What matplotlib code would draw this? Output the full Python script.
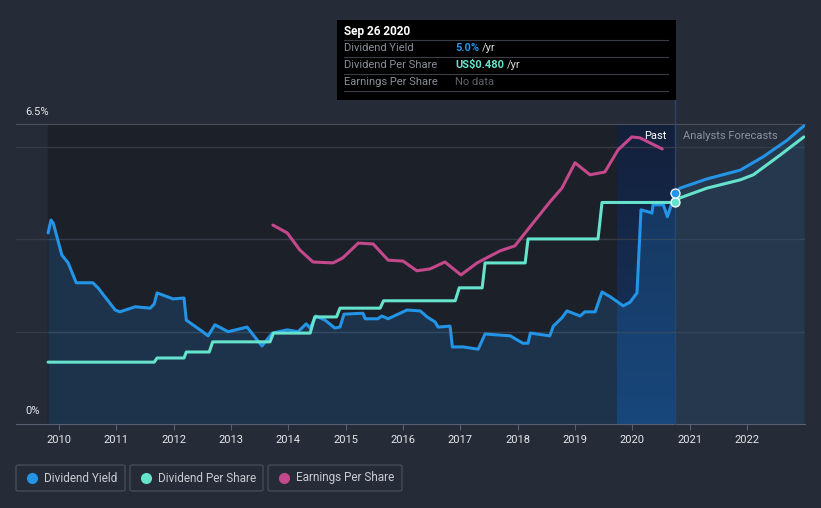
import numpy as np
import matplotlib.pyplot as plt
from matplotlib.patches import Rectangle, FancyBboxPatch
from matplotlib.lines import Line2D
from matplotlib.colors import LinearSegmentedColormap

plt.rcParams['font.family'] = ['Roboto', 'DejaVu Sans']

# Dividend yield (%), past and forecast
dy_years = [2009.81, 2009.86, 2009.90, 2010.05, 2010.16, 2010.30, 2010.59, 2010.68, 2010.98, 2011.06,
            2011.33, 2011.59, 2011.66, 2011.71, 2011.99, 2012.18, 2012.22, 2012.46, 2012.60, 2012.72,
            2012.95, 2013.28, 2013.54, 2013.72, 2013.98, 2014.17, 2014.31, 2014.38, 2014.48, 2014.64,
            2014.81, 2014.90, 2014.97, 2015.30, 2015.34, 2015.56, 2015.63, 2015.74, 2016.07, 2016.30,
            2016.42, 2016.56, 2016.61, 2016.82, 2016.86, 2017.05, 2017.31, 2017.43, 2017.87, 2018.09,
            2018.18, 2018.22, 2018.56, 2018.62, 2018.77, 2018.86, 2019.09, 2019.17, 2019.35, 2019.47,
            2019.61, 2019.84, 2019.96, 2020.08, 2020.15, 2020.27, 2020.34, 2020.36, 2020.54, 2020.61,
            2020.69, 2020.74]
dy_values = [4.14, 4.42, 4.35, 3.66, 3.49, 3.06, 3.06, 2.95, 2.47, 2.43,
             2.54, 2.51, 2.60, 2.84, 2.71, 2.73, 2.25, 2.04, 1.91, 2.15,
             2.00, 2.10, 1.69, 1.97, 2.04, 2.00, 2.17, 2.08, 2.34, 2.25,
             2.08, 2.10, 2.38, 2.40, 2.28, 2.28, 2.34, 2.28, 2.47, 2.45,
             2.32, 2.21, 2.10, 2.12, 1.67, 1.67, 1.62, 1.95, 1.91, 1.75,
             1.75, 1.97, 1.91, 2.12, 2.30, 2.45, 2.34, 2.43, 2.43, 2.86,
             2.76, 2.56, 2.64, 2.84, 4.64, 4.60, 4.57, 4.75, 4.75, 4.49,
             4.79, 5.00]
dy_fc_years = [2020.74, 2020.83, 2021.30, 2021.88, 2022.28, 2022.70, 2022.99]
dy_fc_values = [5.00, 5.11, 5.31, 5.50, 5.79, 6.15, 6.46]

# Dividend per share (US$)
dps_years = [2009.81, 2011.66, 2011.71, 2012.18, 2012.22, 2012.62, 2012.68, 2013.68, 2013.74,
             2014.38, 2014.46, 2014.84, 2014.90, 2015.60, 2015.66, 2016.91, 2016.98, 2017.38,
             2017.43, 2018.13, 2018.18, 2019.40, 2019.47, 2020.74]
dps_values = [0.134, 0.134, 0.143, 0.143, 0.156, 0.156, 0.178, 0.178, 0.197,
              0.197, 0.232, 0.232, 0.251, 0.251, 0.267, 0.267, 0.295, 0.295,
              0.349, 0.349, 0.401, 0.401, 0.480, 0.480]
dps_fc_years = [2020.74, 2020.83, 2021.30, 2021.88, 2022.11, 2022.58, 2022.99]
dps_fc_values = [0.480, 0.490, 0.511, 0.529, 0.540, 0.583, 0.622]

# Earnings per share (US$)
eps_years = [2013.73, 2013.98, 2014.20, 2014.43, 2014.78, 2014.95, 2015.22, 2015.48, 2015.74, 2016.00,
             2016.24, 2016.47, 2016.73, 2017.01, 2017.29, 2017.69, 2017.95, 2018.27, 2018.56, 2018.77,
             2019.00, 2019.26, 2019.52, 2019.75, 2019.99, 2020.13, 2020.52]
eps_values = [0.431, 0.414, 0.377, 0.351, 0.349, 0.360, 0.392, 0.390, 0.355, 0.353,
              0.332, 0.336, 0.351, 0.323, 0.349, 0.375, 0.386, 0.436, 0.481, 0.511,
              0.566, 0.540, 0.546, 0.594, 0.622, 0.620, 0.596]

year_ticks = list(range(2010, 2023))
today = 2020.74
past_start = 2019.73

BG = '#252b37'
BLUE = '#2394e6'
TEAL = '#66e3cc'
PINK = '#c4498c'
line_kw = dict(lw=2.2, solid_joinstyle='round', solid_capstyle='round')

fig = plt.figure(figsize=(8.21, 5.08), dpi=100, facecolor=BG)
W, H = 821, 508
ax = fig.add_axes([16 / W, (H - 424) / H, (805 - 16) / W, 300 / H])
ax.set_facecolor(BG)
ax.set_xlim(2009.25, 2023.01)
ax.set_ylim(0, 6.5)

# background regions
ax.axvspan(dy_years[0], past_start, color='#1c2029', zorder=0)
grad = LinearSegmentedColormap.from_list('past', ['#13203a', '#173764'])
ax.imshow(np.linspace(0, 1, 100).reshape(-1, 1), cmap=grad, aspect='auto', origin='upper',
          extent=[past_start, today, 0, 6.5], zorder=0.5)
ax.axvspan(today, 2023.01, color='#262e3b', zorder=0)
ax.set_xlim(2009.25, 2023.01)
ax.set_ylim(0, 6.5)

for g in [2, 4, 6]:
    ax.axhline(g, color='#353c48', lw=1, zorder=1)

ax.fill_between(dy_years, dy_values, 0, color='#2196f3', alpha=0.17, lw=0, zorder=2)
ax.fill_between(dy_fc_years, dy_fc_values, 0, color='#2196f3', alpha=0.10, lw=0, zorder=2)
ax.plot(dy_years, dy_values, color=BLUE, zorder=5, **line_kw)
ax.plot(dy_fc_years, dy_fc_values, color=BLUE, zorder=5, **line_kw)

ax2 = ax.twinx()
ax2.set_ylim(0, 0.65)
ax2.plot(dps_years, dps_values, color=TEAL, zorder=5, **line_kw)
ax2.plot(dps_fc_years, dps_fc_values, color=TEAL, zorder=5, **line_kw)
ax2.plot(eps_years, eps_values, color=PINK, zorder=4, **line_kw)
ax2.plot([today], [dps_values[-1]], 'o', ms=6.5, color=TEAL, mec='white', mew=0.9, zorder=6)
ax2.plot([today], [dy_values[-1] / 10], 'o', ms=6.5, color=BLUE, mec='white', mew=0.9, zorder=6)
ax2.axis('off')

# today line extends up to the tooltip
ax.plot([today, today], [0, 7.02], color='#2a4670', lw=1, clip_on=False, zorder=3)

for s in ['left', 'right']:
    ax.spines[s].set_visible(False)
ax.spines['top'].set_color('#4a515d')
ax.spines['bottom'].set_color('#5a6170')
ax.set_yticks([])
ax.set_xticks(year_ticks)
ax.set_xticklabels([str(y) for y in year_ticks], color='#e6e8eb', fontsize=8)
ax.tick_params(axis='x', length=4, color='#5a6170', pad=4)

ax.text(25 / W, 1 - 112 / H, '6.5%', transform=fig.transFigure, color='#e6e8eb', fontsize=8, va='center')
ax.text(25 / W, 1 - 411 / H, '0%', transform=fig.transFigure, color='#e6e8eb', fontsize=8, va='center')
ax.text(666 / W, 1 - 136 / H, 'Past', transform=fig.transFigure, color='white', fontsize=8, ha='right', va='center')
ax.text(683 / W, 1 - 136 / H, 'Analysts Forecasts', transform=fig.transFigure, color='#8a919c', fontsize=8, va='center')

# tooltip
fig.patches.append(Rectangle((337 / W, 1 - 100 / H), 339 / W, 80 / H, transform=fig.transFigure,
                             facecolor='black', edgecolor='none', zorder=10))
fig.text(344 / W, 1 - 31 / H, 'Sep 26 2020', color='white', fontsize=8.5, fontweight='bold', va='center', zorder=11)
rows = [('Dividend Yield', '5.0%', BLUE), ('Dividend Per Share', 'US$0.480', TEAL), ('Earnings Per Share', 'No data', None)]
for i, (lab, val, col) in enumerate(rows):
    yy = 48 + 17 * i
    fig.lines.append(Line2D([344 / W, 668 / W], [1 - (yy - 8) / H] * 2, transform=fig.transFigure,
                            color='#3a3f47', lw=0.8, zorder=11))
    fig.text(344 / W, 1 - yy / H, lab, color='#8a8f97', fontsize=8, va='center', zorder=11)
    if col is None:
        fig.text(455 / W, 1 - yy / H, val, color='#5c6068', fontsize=8, va='center', zorder=11)
    else:
        t = fig.text(455 / W, 1 - yy / H, val, color=col, fontsize=8, fontweight='bold', va='center', zorder=11)
        fig.canvas.draw()
        bb = t.get_window_extent()
        fig.text((bb.x1 + 3) / W, 1 - yy / H, '/yr', color='#d8dade', fontsize=8, va='center', zorder=11)
fig.lines.append(Line2D([344 / W, 668 / W], [1 - 91 / H] * 2, transform=fig.transFigure,
                        color='#3a3f47', lw=0.8, zorder=11))

# legend boxes
legend_items = [('Dividend Yield', BLUE, 16, 125), ('Dividend Per Share', TEAL, 130, 263),
                ('Earnings Per Share', PINK, 268, 402)]
for lab, col, x0, x1 in legend_items:
    fig.patches.append(FancyBboxPatch((x0 / W, 1 - 491 / H), (x1 - x0) / W, 26 / H,
                                      boxstyle='round,pad=0,rounding_size=0.003', transform=fig.transFigure,
                                      facecolor='none', edgecolor='#454c58', lw=1))
    fig.lines.append(Line2D([(x0 + 16) / W], [1 - 478 / H], marker='o', ms=7, color=col,
                            transform=fig.transFigure, lw=0))
    fig.text((x0 + 28) / W, 1 - 478 / H, lab, color='#c9ccd1', fontsize=8.5, va='center')

fig.savefig('out.png', dpi=100, facecolor=BG)
